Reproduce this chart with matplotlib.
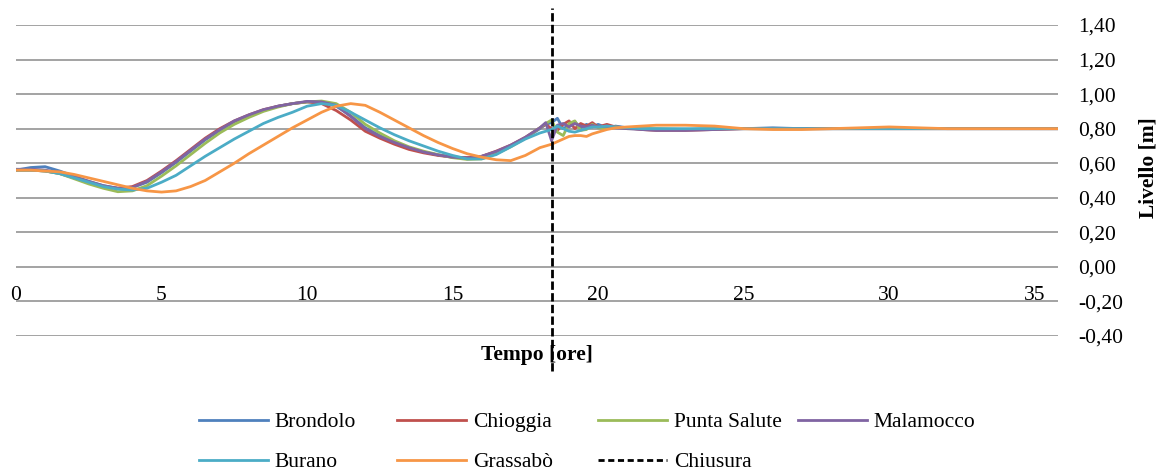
import matplotlib
matplotlib.use("Agg")
import matplotlib.pyplot as plt
from matplotlib.lines import Line2D
from matplotlib.ticker import FuncFormatter, MultipleLocator

plt.rcParams["font.family"] = ["Liberation Serif", "DejaVu Serif"]
FS = 15.5

# Time axis [hours]
hours = [0, 0.5, 1, 1.5, 2, 2.5, 3, 3.5, 4, 4.5,
         5, 5.5, 6, 6.5, 7, 7.5, 8, 8.5, 9, 9.5,
         10, 10.5, 11, 11.5, 12, 12.5, 13, 13.5, 14, 14.5,
         15, 15.5, 16, 16.5, 17, 17.5, 18, 18.2, 18.4, 18.6,
         18.8, 19.0, 19.2, 19.4, 19.6, 19.8, 20.0, 20.3, 20.6, 21,
         21.5, 22, 23, 24, 25, 26, 27, 28, 29, 30,
         31, 32, 33, 34, 35, 35.8]

# Water levels [m]
brondolo = [0.56, 0.575, 0.58, 0.555, 0.525, 0.495, 0.47, 0.455, 0.46, 0.49,
            0.545, 0.605, 0.67, 0.735, 0.79, 0.84, 0.875, 0.905, 0.93, 0.945,
            0.955, 0.955, 0.93, 0.875, 0.805, 0.76, 0.72, 0.69, 0.665, 0.648,
            0.636, 0.632, 0.64, 0.665, 0.70, 0.745, 0.80, 0.825, 0.835, 0.86,
            0.80, 0.82, 0.84, 0.805, 0.825, 0.81, 0.825, 0.805, 0.815, 0.805,
            0.80, 0.795, 0.795, 0.80, 0.80, 0.805, 0.80, 0.80, 0.80, 0.80,
            0.80, 0.80, 0.80, 0.80, 0.80, 0.80]

chioggia = [0.56, 0.56, 0.555, 0.54, 0.515, 0.49, 0.465, 0.455, 0.465, 0.50,
            0.555, 0.615, 0.68, 0.745, 0.80, 0.845, 0.88, 0.91, 0.93, 0.945,
            0.955, 0.945, 0.905, 0.85, 0.785, 0.745, 0.71, 0.68, 0.66, 0.645,
            0.635, 0.632, 0.64, 0.67, 0.705, 0.75, 0.805, 0.825, 0.80, 0.79,
            0.825, 0.845, 0.80, 0.83, 0.815, 0.835, 0.81, 0.825, 0.81, 0.805,
            0.795, 0.79, 0.79, 0.795, 0.80, 0.80, 0.80, 0.80, 0.80, 0.80,
            0.80, 0.80, 0.80, 0.80, 0.80, 0.80]

punta_salute = [0.56, 0.56, 0.555, 0.54, 0.51, 0.48, 0.455, 0.435, 0.44, 0.47,
                0.525, 0.585, 0.65, 0.715, 0.775, 0.825, 0.865, 0.90, 0.925, 0.945,
                0.955, 0.96, 0.945, 0.895, 0.825, 0.775, 0.73, 0.695, 0.67, 0.65,
                0.632, 0.622, 0.625, 0.655, 0.695, 0.745, 0.805, 0.83, 0.85, 0.78,
                0.76, 0.83, 0.845, 0.79, 0.795, 0.825, 0.805, 0.80, 0.81, 0.80,
                0.80, 0.80, 0.795, 0.80, 0.80, 0.80, 0.80, 0.80, 0.80, 0.80,
                0.80, 0.80, 0.80, 0.80, 0.80, 0.80]

malamocco = [0.565, 0.565, 0.56, 0.545, 0.52, 0.495, 0.47, 0.455, 0.46, 0.495,
             0.55, 0.61, 0.675, 0.74, 0.795, 0.845, 0.88, 0.91, 0.93, 0.945,
             0.958, 0.955, 0.935, 0.87, 0.80, 0.755, 0.72, 0.69, 0.665, 0.648,
             0.635, 0.63, 0.64, 0.668, 0.705, 0.75, 0.805, 0.835, 0.73, 0.82,
             0.83, 0.81, 0.83, 0.815, 0.81, 0.82, 0.81, 0.815, 0.805, 0.80,
             0.795, 0.79, 0.79, 0.795, 0.80, 0.80, 0.80, 0.80, 0.80, 0.80,
             0.80, 0.80, 0.80, 0.80, 0.80, 0.80]

burano = [0.56, 0.56, 0.555, 0.54, 0.515, 0.49, 0.465, 0.45, 0.445, 0.455,
          0.49, 0.53, 0.585, 0.64, 0.69, 0.74, 0.785, 0.83, 0.865, 0.895,
          0.93, 0.945, 0.935, 0.895, 0.85, 0.805, 0.765, 0.73, 0.70, 0.67,
          0.645, 0.625, 0.625, 0.65, 0.695, 0.74, 0.775, 0.785, 0.795, 0.815,
          0.80, 0.785, 0.78, 0.79, 0.80, 0.81, 0.81, 0.815, 0.81, 0.805,
          0.80, 0.80, 0.80, 0.80, 0.80, 0.80, 0.80, 0.80, 0.80, 0.80,
          0.80, 0.80, 0.80, 0.80, 0.80, 0.80]

grassabo = [0.56, 0.56, 0.555, 0.55, 0.535, 0.515, 0.495, 0.475, 0.455, 0.44,
            0.433, 0.44, 0.465, 0.50, 0.55, 0.60, 0.655, 0.705, 0.755, 0.805,
            0.85, 0.895, 0.93, 0.945, 0.935, 0.895, 0.85, 0.805, 0.76, 0.72,
            0.685, 0.655, 0.635, 0.62, 0.615, 0.645, 0.69, 0.70, 0.71, 0.725,
            0.74, 0.755, 0.76, 0.76, 0.755, 0.77, 0.78, 0.795, 0.805, 0.81,
            0.815, 0.82, 0.82, 0.815, 0.80, 0.795, 0.795, 0.80, 0.805, 0.81,
            0.805, 0.80, 0.80, 0.80, 0.80, 0.80]

closure_time = 18.4  # barrier closure [hours]

series = [
    ("Brondolo", brondolo, "#4F81BD"),
    ("Chioggia", chioggia, "#C0504D"),
    ("Punta Salute", punta_salute, "#9BBB59"),
    ("Malamocco", malamocco, "#8064A2"),
    ("Burano", burano, "#4BACC6"),
    ("Grassabò", grassabo, "#F79646"),
]

fig = plt.figure(figsize=(11.63, 4.75), dpi=100)
ax = fig.add_axes([16 / 1163, 1 - 336 / 475, (1058 - 16) / 1163, (336 - 25) / 475])

handles = {}
for name, vals, col in series:
    (h,) = ax.plot(hours, vals, color=col, lw=2.0, label=name,
                   solid_joinstyle="round", zorder=3)
    handles[name] = h

# closure marker runs a little beyond the plotting area, top and bottom
ax.vlines(closure_time, -0.6, 1.5, colors="black", lw=2.0,
          linestyles=[(0, (3, 1.2))], zorder=4, clip_on=False)
handles["Chiusura"] = Line2D([], [], color="black", lw=2.0, ls=(0, (2.2, 1.3)))

ax.set_xlim(0, 35.8)
ax.set_ylim(-0.4, 1.4)
ax.yaxis.set_major_locator(MultipleLocator(0.2))
ax.xaxis.set_major_locator(MultipleLocator(5))

ax.grid(axis="y", color="#8a8a8a", lw=1.1, zorder=1)
ax.grid(axis="x", visible=False)
for side in ["left", "right", "top", "bottom"]:
    ax.spines[side].set_visible(False)
ax.spines["bottom"].set_position(("data", 0))

ax.yaxis.tick_right()
ax.yaxis.set_major_formatter(
    FuncFormatter(lambda v, p: f"{round(v, 2) + 0.0:.2f}".replace(".", ",")))
ax.tick_params(axis="y", length=0, pad=14.4, labelsize=FS)
ax.tick_params(axis="x", length=0, pad=13.5, labelsize=FS)

ax.set_xlabel("Tempo [ore]", fontsize=FS, fontweight="bold")
ax.xaxis.set_label_coords(0.5, -0.029)
fig.text(1148 / 1163, 1 - 168 / 475, "Livello [m]", fontsize=FS,
         fontweight="bold", rotation=90, ha="center", va="center")

# Legend: four columns laid out on a fixed grid
columns = [["Brondolo", "Burano"], ["Chioggia", "Grassabò"],
           ["Punta Salute", "Chiusura"], ["Malamocco"]]
col_x = [199, 397, 598, 798]
for names, x0 in zip(columns, col_x):
    fig.legend([handles[n] for n in names], names,
               loc="upper left", bbox_to_anchor=(x0 / 1163, 1 - 412 / 475),
               frameon=False, fontsize=FS, borderpad=0, borderaxespad=0,
               handlelength=3.2, handletextpad=0.32, labelspacing=0.94)

fig.savefig("out.png", dpi=100)
